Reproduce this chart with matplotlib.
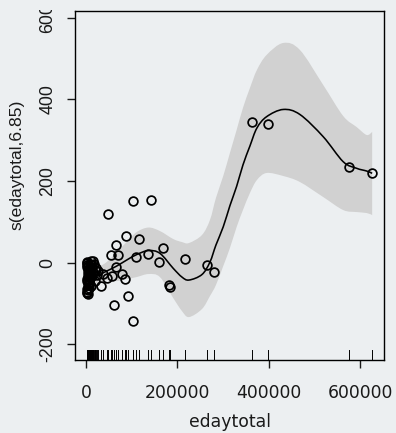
import numpy as np
import matplotlib.pyplot as plt
from matplotlib.path import Path
from matplotlib.patches import PathPatch
from matplotlib.transforms import Bbox, TransformedBbox, blended_transform_factory

# partial residuals for s(edaytotal)
cluster_x = [1200, 1800, 2400, 3000, 3500, 4100, 4700, 5300, 6000, 6800,
             7500, 8300, 9200, 10000, 11000, 12500, 14000, 15500, 17000, 19000,
             1500, 2700, 3900, 5000, 6400, 8800, 11800, 2100, 4400, 7200,
             9800, 13200, 3300, 5600, 16000, 21000, 24000, 2600, 6200]
cluster_y = [2, -5, -12, 0, -20, -28, -35, -8, -42, -15,
             -50, -3, -25, -58, 5, -33, -12, -22, -4, -18,
             -65, -72, -55, -77, -48, -38, -30, -45, -68, -62,
             -10, -6, -40, -26, 3, -14, -30, -75, -52]

other_x = [27000, 38000, 20000, 32100, 46600, 48800, 55300, 56200, 61200, 65600,
           65600, 70600, 78100, 85300, 87500, 91200, 102100, 102100, 109400, 115900,
           136200, 141500, 159700, 168400, 182300, 183500, 217200, 264000, 280000,
           362400, 398700, 575200, 626100]
other_y = [-20, -28, -45, -57, -38, 119, 18, -33, -105, 43,
           -10, 18, -27, -41, 65, -83, 152, -143, 14, 58,
           20, 153, 1, 36, -56, -60, 9, -7, -22,
           345, 339, 235, 220]

pts_x = np.array(cluster_x + other_x)
pts_y = np.array(cluster_y + other_y)

# fitted smooth with 2 s.e. band
fit_x = [1000, 26200, 45300, 67100, 89000, 110900, 136700, 161800, 190900, 210000,
         225300, 253700, 271200, 284300, 300300, 314900, 329600, 343400, 358700, 374000,
         395200, 431500, 468000, 519000, 562700, 592000, 614000, 626100]
fit_y = [-35.6, -30.7, -20.9, -8.6, 6.1, 19.6, 29.4, 22.6, -14.2, -35.6,
         -42.9, -29.4, 1.2, 42.9, 87.7, 139.5, 186.9, 239.3, 285.9, 330.1,
         357.8, 375.5, 363.2, 308.7, 247.4, 231.2, 224.5, 218.9]
fit_hi = [-20.9, -11, 1.2, 25.8, 50.3, 74.8, 85.9, 77.3, 57.7, 50.3,
          47.9, 67.5, 104.3, 158.3, 212.3, 268.7, 325.2, 379.1, 428.2, 472.4,
          509.2, 538.6, 521.5, 435.6, 359.5, 332.5, 312.9, 320.3]
fit_lo = [-50.3, -50.3, -42.9, -45.4, -40.5, -35.6, -28.2, -35.6, -87.1, -119,
          -133.7, -114.1, -82.2, -55.2, -8.6, 35.6, 87.1, 128.8, 170.6, 202.5,
          219.7, 212.3, 197.6, 160.7, 128.8, 123.9, 121.5, 116.6]

x_ticks = [0, 200000, 400000, 600000]
x_tick_labels = ["0", "200000", "400000", "600000"]
y_ticks = [-200, 0, 200, 400, 600]
y_tick_labels = ["-200", "0", "200", "400", "600"]


def smooth_segments(xs, ys):
    # cubic bezier pieces (catmull-rom style) through the given points
    p = np.column_stack([xs, ys]).astype(float)
    verts, codes = [], []
    n = len(p)
    for i in range(n - 1):
        p0 = p[i - 1] if i > 0 else p[i]
        p3 = p[i + 2] if i + 2 < n else p[i + 1]
        c1 = p[i] + (p[i + 1] - p0) / 6
        c2 = p[i + 1] - (p3 - p[i]) / 6
        verts += [c1, c2, p[i + 1]]
        codes += [Path.CURVE4] * 3
    return p[0], verts, codes


bg = "#eceff1"
fig = plt.figure(figsize=(3.96, 4.33), dpi=100, facecolor=bg)
ax = fig.add_axes([75 / 396, 73 / 433, 309 / 396, 349 / 433], facecolor=bg)

# confidence band
start, v_hi, c_hi = smooth_segments(fit_x, fit_hi)
end_lo, v_lo, c_lo = smooth_segments(fit_x[::-1], fit_lo[::-1])
band_verts = [start] + v_hi + [end_lo] + v_lo + [start]
band_codes = [Path.MOVETO] + c_hi + [Path.LINETO] + c_lo + [Path.CLOSEPOLY]
ax.add_patch(PathPatch(Path(band_verts, band_codes), facecolor="#d1d1d1",
                       edgecolor="none", zorder=1))

# fitted curve
start, v_fit, c_fit = smooth_segments(fit_x, fit_y)
ax.add_patch(PathPatch(Path([start] + v_fit, [Path.MOVETO] + c_fit),
                       facecolor="none", edgecolor="black", lw=1.15, zorder=3))

ax.plot(pts_x, pts_y, ls="none", marker="o", ms=6.3, mfc="none", mec="black",
        mew=1.25, zorder=4)

# rug along the bottom
rug = blended_transform_factory(ax.transData, ax.transAxes)
for xv in pts_x:
    ax.plot([xv, xv], [0, 0.03], color="black", lw=0.7, transform=rug, zorder=2)

ax.set_xlim(-24000, 652000)
ax.set_ylim(-239, 617)

for s in ax.spines.values():
    s.set_linewidth(1.0)
ax.tick_params(direction="out", length=5.8, width=1.0, colors="#1a1a1a")

ax.set_xticks(x_ticks)
ax.set_xticklabels(x_tick_labels, fontfamily="DejaVu Sans", fontsize=12.4)
ax.tick_params(axis="x", pad=11.5)
ax.set_yticks(y_ticks)
ax.set_yticklabels(y_tick_labels, fontfamily="Liberation Sans", fontsize=12.8,
                   rotation=90, va="center")
ax.tick_params(axis="y", pad=7.5)

ax.set_xlabel("edaytotal", fontfamily="DejaVu Sans", fontsize=12.4, color="#1a1a1a")
ax.xaxis.set_label_coords(0.5, -0.178)
ax.xaxis.label.set_va("center")
ax.set_ylabel("s(edaytotal,6.85)", fontfamily="Liberation Sans", fontsize=12.6,
              color="#1a1a1a")
ax.yaxis.set_label_coords(-0.188, 0.559)
ax.yaxis.label.set_va("center")

# top label runs off the plotting device
clip = TransformedBbox(Bbox([[0, 0], [1, 1 - 10 / 433]]), fig.transFigure)
for lab in ax.get_yticklabels():
    lab.set_clip_box(clip)
    lab.set_clip_on(True)

fig.savefig("out.png", dpi=100, facecolor=bg)
